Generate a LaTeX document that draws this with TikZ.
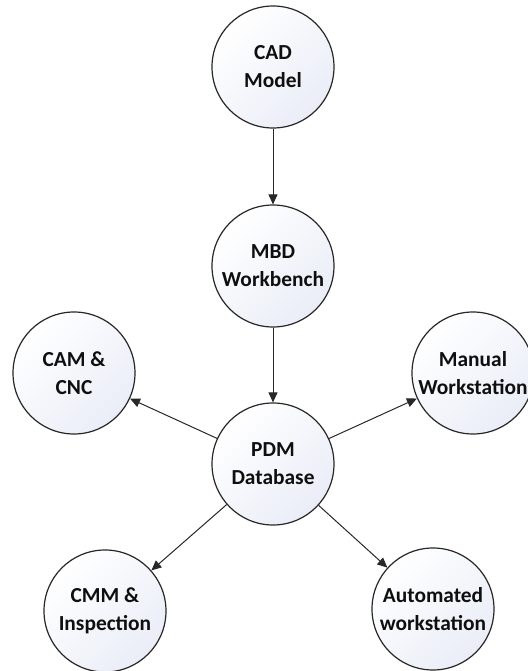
\documentclass[tikz,border=0pt]{standalone}
\usepackage{fontspec}
\setmainfont{Carlito}
\usepackage{tikz}
\usetikzlibrary{arrows.meta,shapes,positioning}
\usepackage{xcolor}
\definecolor{cdline}{RGB}{40,40,40}
\definecolor{cdshade}{RGB}{234,237,247}
\definecolor{cdtext}{RGB}{15,15,15}
\tikzstyle{stage} = [circle, minimum size=61pt, inner sep=0pt, align=center, draw=cdline, line width=0.6pt, top color=white, bottom color=cdshade, shading angle=45, text=cdtext, font=\bfseries\fontsize{10.7}{14}\selectfont]
\tikzstyle{arrow} = [line width=0.5pt, draw=cdline, -{Triangle[length=5pt,width=4.5pt]}]

\begin{document}
\begin{tikzpicture}[x=0.5pt, y=0.5pt]
\useasboundingbox (0,0) rectangle (528,671);
% Main chain
\node[stage] (cad) at (273,604) {CAD\\Model};
\node[stage] (mbd) at (273,405) {MBD\\Workbench};
\node[stage] (pdm) at (273,207) {PDM\\Database};

% Consumers
\node[stage] (cam) at (74,298) {CAM \&\\CNC};
\node[stage] (manual) at (473,298) {Manual\\Workstation};
\node[stage] (cmm) at (105,60) {CMM \&\\Inspection};
\node[stage] (auto) at (433,62) {Automated\\workstation};

% Connections
\draw[arrow] (cad) -- (mbd);
\draw[arrow] (mbd) -- (pdm);
\draw[arrow] (pdm) -- (cam);
\draw[arrow] (pdm) -- (manual);
\draw[arrow] (pdm) -- (cmm);
\draw[arrow] (pdm) -- (auto);
\end{tikzpicture}
\end{document}
